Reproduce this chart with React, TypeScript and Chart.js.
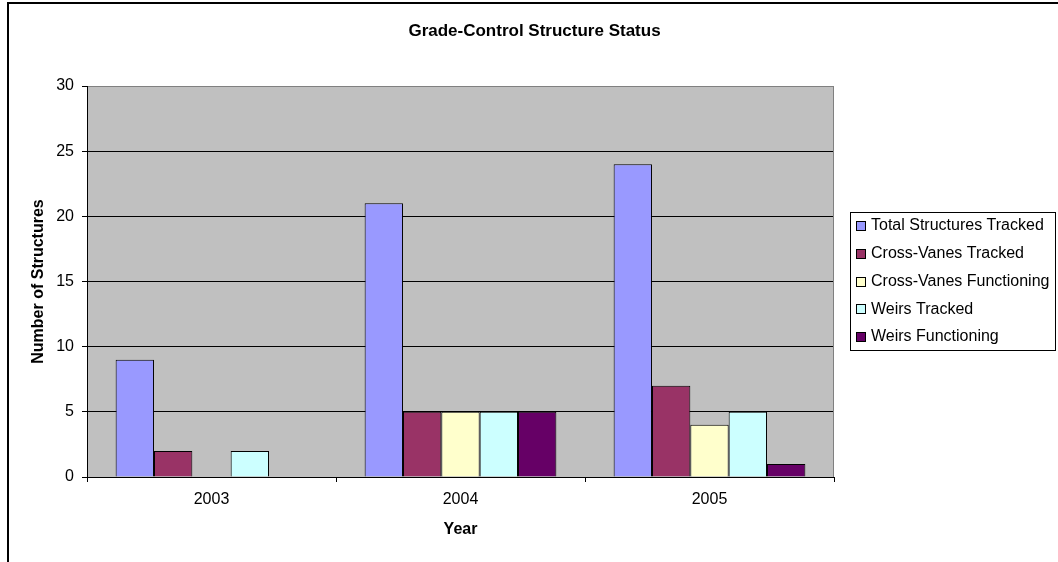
import React, { useEffect, useRef } from 'react';
import { Chart, registerables } from 'chart.js';

Chart.register(...registerables);

const categories = ['2003', '2004', '2005'];
const seriesNames = [
  'Total Structures Tracked',
  'Cross-Vanes Tracked',
  'Cross-Vanes Functioning',
  'Weirs Tracked',
  'Weirs Functioning',
];
const totalStructuresTracked = [9, 21, 24];
const crossVanesTracked = [2, 5, 7];
const crossVanesFunctioning = [0, 5, 4];
const weirsTracked = [2, 5, 5];
const weirsFunctioning = [0, 5, 1];
const seriesColors = ['#9999FF', '#993366', '#FFFFCC', '#CCFFFF', '#660066'];
const yTickValues = [0, 5, 10, 15, 20, 25, 30];

const chartTitle = 'Grade-Control Structure Status';
const xAxisTitle = 'Year';
const yAxisTitle = 'Number of Structures';

const FONT = "'Liberation Sans', Arial, Helvetica, sans-serif";

const decorPlugin = {
  id: 'decor',
  beforeDraw(chart: any) {
    const { ctx, chartArea: a } = chart;
    ctx.save();
    ctx.fillStyle = '#C0C0C0';
    ctx.fillRect(a.left, a.top, a.right - a.left, a.bottom - a.top);
    ctx.restore();
  },
  beforeDatasetsDraw(chart: any) {
    const { ctx, chartArea: a } = chart;
    ctx.save();
    ctx.strokeStyle = '#808080';
    ctx.lineWidth = 1;
    ctx.beginPath();
    const x = Math.round(a.right) - 0.5;
    ctx.moveTo(x, a.top);
    ctx.lineTo(x, a.bottom);
    ctx.stroke();
    ctx.restore();
  },
  afterDraw(chart: any) {
    const { ctx, chartArea: a } = chart;
    ctx.save();
    // outer chart frame
    ctx.strokeStyle = '#000';
    ctx.lineWidth = 2;
    ctx.strokeRect(8, 3, 1200, 800);

    // legend
    const boxLeft = a.right + 16.5;
    const boxTop = 212.5;
    const boxW = 205;
    const boxH = 138;
    ctx.lineWidth = 1;
    ctx.strokeStyle = '#000';
    ctx.fillStyle = '#fff';
    ctx.fillRect(boxLeft, boxTop, boxW, boxH);
    ctx.strokeRect(boxLeft, boxTop, boxW, boxH);
    ctx.font = `16px ${FONT}`;
    ctx.textBaseline = 'middle';
    ctx.textAlign = 'left';
    chart.data.datasets.forEach((ds: any, i: number) => {
      const cy = 226 + i * 27.75;
      const sq = 9;
      const sx = Math.round(boxLeft + 5) + 0.5;
      const sy = Math.round(cy - 5) + 0.5;
      ctx.fillStyle = ds.backgroundColor;
      ctx.fillRect(sx, sy, sq, sq);
      ctx.strokeStyle = '#000';
      ctx.strokeRect(sx, sy, sq, sq);
      ctx.fillStyle = '#000';
      ctx.fillText(ds.label, boxLeft + 20.5, cy);
    });
    ctx.restore();
  },
};

export default function App() {
  const canvasRef = useRef<HTMLCanvasElement | null>(null);

  useEffect(() => {
    if (!canvasRef.current) return;
    Chart.defaults.font.family = FONT;
    Chart.defaults.color = '#000';
    const seriesValues = [
      totalStructuresTracked,
      crossVanesTracked,
      crossVanesFunctioning,
      weirsTracked,
      weirsFunctioning,
    ];
    const chart = new Chart(canvasRef.current, {
      type: 'bar',
      data: {
        labels: categories,
        datasets: seriesNames.map((name, i) => ({
          label: name,
          data: seriesValues[i],
          backgroundColor: seriesColors[i],
          borderColor: '#000',
          borderWidth: 1,
          categoryPercentage: 0.77,
          barPercentage: 1,
        })),
      },
      options: {
        animation: false,
        responsive: false,
        devicePixelRatio: 1,
        layout: { padding: { left: 11, right: 0, top: 0, bottom: 0 } },
        plugins: {
          legend: { display: false },
          tooltip: { enabled: false },
          title: {
            display: true,
            text: chartTitle,
            color: '#000',
            font: { size: 17, weight: 'bold', family: FONT },
            padding: { top: 20.8, bottom: 44.8 },
          },
        },
        scales: {
          x: {
            type: 'category',
            offset: true,
            grid: {
              offset: true,
              drawOnChartArea: false,
              drawTicks: true,
              tickLength: 5,
              color: '#000',
              tickColor: '#000',
            },
            border: { color: '#000', width: 1 },
            ticks: { font: { size: 16, family: FONT }, color: '#000', padding: 8 },
            title: {
              display: true,
              text: xAxisTitle,
              color: '#000',
              font: { size: 16, weight: 'bold', family: FONT },
              padding: { top: 0, bottom: 22.4 },
            },
            afterFit(scale: any) {
              scale.height = 85;
            },
          },
          y: {
            type: 'linear',
            position: 'left',
            min: 0,
            max: 30,
            afterBuildTicks(scale: any) {
              scale.ticks = yTickValues.map((v) => ({ value: v }));
            },
            grid: {
              drawTicks: true,
              tickLength: 5,
              lineWidth: 1,
              color: (c: any) => (c.tick && c.tick.value === 30 ? '#808080' : '#000'),
              tickColor: '#000',
            },
            border: { color: '#000', width: 1 },
            ticks: { font: { size: 16, family: FONT }, color: '#000', padding: 8 },
            title: {
              display: true,
              text: yAxisTitle,
              color: '#000',
              font: { size: 16, weight: 'bold', family: FONT },
              padding: { top: 17.5, bottom: 0 },
            },
            afterFit(scale: any) {
              scale.width = 76;
            },
          },
          legendSpace: {
            type: 'linear',
            position: 'right',
            display: true,
            grid: { display: false, drawTicks: false },
            border: { display: false },
            ticks: { display: false },
            afterFit(scale: any) {
              scale.width = 224;
            },
          },
        },
      } as any,
      plugins: [decorPlugin],
    });
    return () => chart.destroy();
  }, []);

  return (
    <div style={{ position: 'absolute', left: 0, top: 0, width: 1058, height: 562, background: '#fff' }}>
      <canvas ref={canvasRef} width={1058} height={562} />
    </div>
  );
}
